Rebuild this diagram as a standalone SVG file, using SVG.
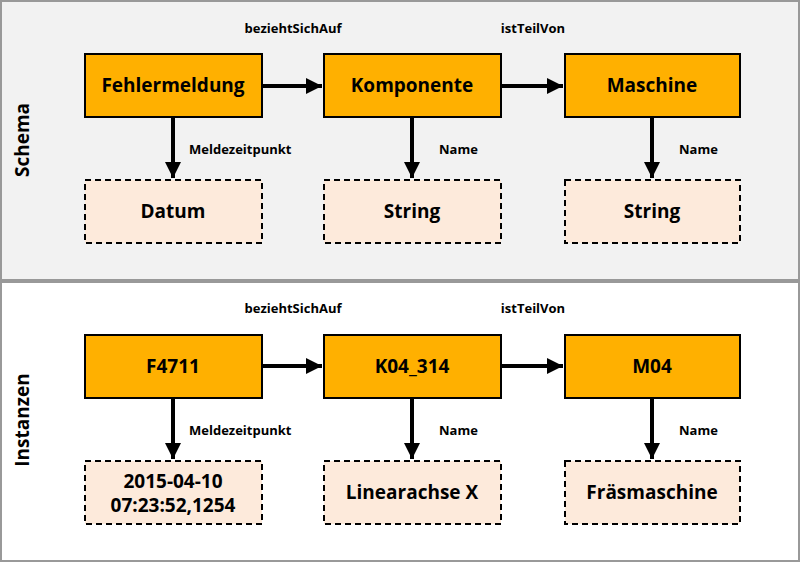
<svg xmlns="http://www.w3.org/2000/svg" width="800" height="563" viewBox="0 0 800 563">
<style>
text{font-family:"Open Sans","Liberation Sans",sans-serif;font-weight:bold;fill:#000;text-anchor:middle}
.n{fill:#ffb000;stroke:#000;stroke-width:2}
.d{fill:#fdeadb;stroke:#000;stroke-width:2;stroke-dasharray:6 4}
.t{font-size:19px}
.l{font-size:13px}
.s{text-anchor:start}
.c{stroke:#000;stroke-width:4;fill:none;marker-end:url(#a)}
.p{stroke:#999;stroke-width:2}
</style>
<defs><marker id="a" markerWidth="4" markerHeight="4" refX="4" refY="2" orient="auto" markerUnits="strokeWidth"><path d="M0,0L4,2L0,4z" fill="#000"/></marker></defs>
<rect x="1" y="1" width="798" height="279" fill="#f2f2f2" class="p"/>
<rect x="1" y="282" width="798" height="279" fill="#fff" class="p"/>
<text class="t" transform="translate(29,140) rotate(-90)">Schema</text>
<text class="t" transform="translate(29,420) rotate(-90)">Instanzen</text>
<g id="connectors">
<path class="c" d="M262,86H322"/><path class="c" d="M501,86H563"/>
<path class="c" d="M173,117V178"/><path class="c" d="M412,117V178"/><path class="c" d="M652,117V178"/>
<path class="c" d="M262,366H322"/><path class="c" d="M501,366H563"/>
<path class="c" d="M173,398V459"/><path class="c" d="M412,398V459"/><path class="c" d="M652,398V459"/>
<text class="l" x="293" y="33">beziehtSichAuf</text><text class="l" x="533" y="33">istTeilVon</text>
<text class="l s" x="189" y="154">Meldezeitpunkt</text><text class="l s" x="439" y="154">Name</text><text class="l s" x="679" y="154">Name</text>
<text class="l" x="293" y="313">beziehtSichAuf</text><text class="l" x="533" y="313">istTeilVon</text>
<text class="l s" x="189" y="435">Meldezeitpunkt</text><text class="l s" x="439" y="435">Name</text><text class="l s" x="679" y="435">Name</text>
</g>
<g id="fehlermeldung"><rect class="n" x="85" y="54" width="177" height="63"/><text class="t" x="173" y="92">Fehlermeldung</text></g>
<g id="komponente"><rect class="n" x="324" y="54" width="177" height="63"/><text class="t" x="412" y="92">Komponente</text></g>
<g id="maschine"><rect class="n" x="565" y="54" width="175" height="63"/><text class="t" x="652" y="92">Maschine</text></g>
<g id="datum"><rect class="d" x="85" y="180" width="177" height="63"/><text class="t" x="173" y="218">Datum</text></g>
<g id="string1"><rect class="d" x="324" y="180" width="177" height="63"/><text class="t" x="412" y="218">String</text></g>
<g id="string2"><rect class="d" x="565" y="180" width="175" height="63"/><text class="t" x="652" y="218">String</text></g>
<g id="f4711"><rect class="n" x="85" y="335" width="177" height="63"/><text class="t" x="173" y="373">F4711</text></g>
<g id="k04"><rect class="n" x="324" y="335" width="177" height="63"/><text class="t" x="412" y="373">K04_314</text></g>
<g id="m04"><rect class="n" x="565" y="335" width="175" height="63"/><text class="t" x="652" y="373">M04</text></g>
<g id="zeit"><rect class="d" x="85" y="461" width="177" height="63"/><text class="t" x="173" y="488">2015-04-10</text><text class="t" x="173" y="512">07:23:52,1254</text></g>
<g id="linear"><rect class="d" x="324" y="461" width="177" height="63"/><text class="t" x="412" y="499">Linearachse X</text></g>
<g id="fraes"><rect class="d" x="565" y="461" width="175" height="63"/><text class="t" x="652" y="499">Fräsmaschine</text></g>
</svg>
